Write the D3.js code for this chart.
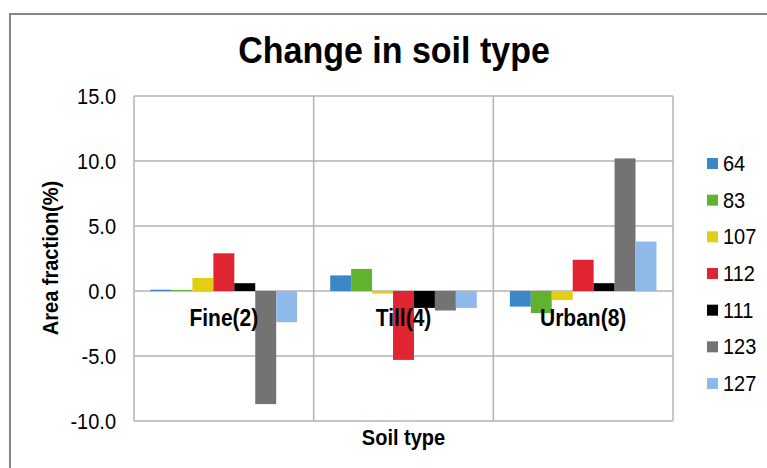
<!DOCTYPE html>
<html>
<head>
<meta charset="utf-8">
<script src="https://cdn.jsdelivr.net/npm/d3@7"></script>
<style>
  html, body { margin: 0; padding: 0; background: #fff; }
  svg { display: block; font-family: "Liberation Sans", Arial, sans-serif; }
</style>
</head>
<body>
<svg id="chart" width="767" height="468"></svg>
<script>
// Soil type categories along the x axis
const categories = ["Fine(2)", "Till(4)", "Urban(8)"];
// Series names (legend entries)
const seriesNames = ["64", "83", "107", "112", "111", "123", "127"];
const seriesColors = ["#3a88c8", "#63b22f", "#e2cf14", "#e02431", "#000000", "#737373", "#8eb9e8"];
// Change in area fraction (%) for each series, one value per category
const s64  = [0.1, 1.2, -1.2];
const s83  = [0.08, 1.7, -1.7];
const s107 = [1.0, -0.2, -0.7];
const s112 = [2.9, -5.3, 2.4];
const s111 = [0.6, -1.3, 0.6];
const s123 = [-8.7, -1.5, 10.2];
const s127 = [-2.4, -1.3, 3.8];
const seriesValues = [s64, s83, s107, s112, s111, s123, s127];
// Y axis ticks
const yTicks = [-10, -5, 0, 5, 10, 15];

const svg = d3.select("#chart");
const plot = { left: 134, top: 96, right: 673, bottom: 421 };
// Text is drawn slightly taller than the font's natural proportions
const stretch = 1.1;

// Outer chart frame
svg.append("rect")
  .attr("x", 10).attr("y", 14)
  .attr("width", 800).attr("height", 500)
  .attr("fill", "#fff")
  .attr("stroke", "#878787").attr("stroke-width", 2);

const x0 = d3.scaleBand().domain(categories).range([plot.left, plot.right]).padding(0);
const x1 = d3.scaleBand().domain(seriesNames).range([0, x0.bandwidth()])
  .paddingInner(0).paddingOuter(0.79);
const y = d3.scaleLinear().domain([-10, 15]).range([plot.bottom, plot.top]);

const gridColor = "#b3b3b3";

// Horizontal gridlines
svg.append("g").selectAll("line").data(yTicks).join("line")
  .attr("x1", plot.left).attr("x2", plot.right)
  .attr("y1", d => y(d)).attr("y2", d => y(d))
  .attr("stroke", gridColor).attr("stroke-width", 1.5);

// Vertical gridlines at category boundaries
const vBounds = categories.map(c => x0(c)).concat([plot.right]);
svg.append("g").selectAll("line").data(vBounds).join("line")
  .attr("x1", d => d).attr("x2", d => d)
  .attr("y1", plot.top).attr("y2", plot.bottom)
  .attr("stroke", gridColor).attr("stroke-width", 1.5);

// Bars
const barData = [];
seriesNames.forEach((s, si) => {
  categories.forEach((c, ci) => {
    barData.push({ series: s, cat: c, value: seriesValues[si][ci], color: seriesColors[si] });
  });
});
svg.append("g").selectAll("rect").data(barData).join("rect")
  .attr("x", d => x0(d.cat) + x1(d.series))
  .attr("width", x1.bandwidth())
  .attr("y", d => y(Math.max(0, d.value)))
  .attr("height", d => Math.abs(y(d.value) - y(0)))
  .attr("fill", d => d.color);

// Y axis tick labels (plain hyphen for negatives)
const fmt = d3.format(".1f");
const yAxis = d3.axisLeft(y).tickValues(yTicks).tickSize(0).tickPadding(0)
  .tickFormat(d => fmt(d).replace("\u2212", "-"));
const yg = svg.append("g").attr("transform", `translate(116,0)`).call(yAxis);
yg.select(".domain").remove();
yg.selectAll(".tick text")
  .attr("font-family", "Liberation Sans, Arial, sans-serif")
  .attr("font-size", 20).attr("fill", "#000")
  .attr("x", 0).attr("dy", null).attr("y", 7)
  .attr("transform", `scale(1,${stretch})`);

// Helper: text with vertical stretch anchored on its baseline point
function label(g, x, y, txt, size, weight, anchor) {
  return g.append("text")
    .attr("transform", `translate(${x},${y}) scale(1,${stretch})`)
    .attr("text-anchor", anchor || "middle")
    .attr("font-size", size).attr("font-weight", weight || "normal")
    .text(txt);
}

// Category labels placed beneath the zero line
categories.forEach(c => {
  label(svg, x0(c) + x0.bandwidth() / 2, y(0) + 35, c, 21, "bold");
});

// Title
label(svg, 394, 63, "Change in soil type", 34, "bold");

// Axis titles
label(svg, (plot.left + plot.right) / 2, 445, "Soil type", 20, "bold");
svg.append("text")
  .attr("transform", `translate(58,258) rotate(-90) scale(1,${stretch})`)
  .attr("text-anchor", "middle")
  .attr("font-size", 20).attr("font-weight", "bold")
  .text("Area fraction(%)");

// Legend
const legendY = d3.scalePoint().domain(seriesNames).range([164, 384]);
const lg = svg.append("g").selectAll("g").data(seriesNames).join("g")
  .attr("transform", d => `translate(707,${legendY(d)})`);
lg.append("rect")
  .attr("x", 0).attr("y", -6).attr("width", 11).attr("height", 11)
  .attr("fill", (d, i) => seriesColors[i]);
lg.append("text")
  .attr("transform", `translate(16,7) scale(1,${stretch})`)
  .attr("font-size", 20)
  .text(d => d);
</script>
</body>
</html>
